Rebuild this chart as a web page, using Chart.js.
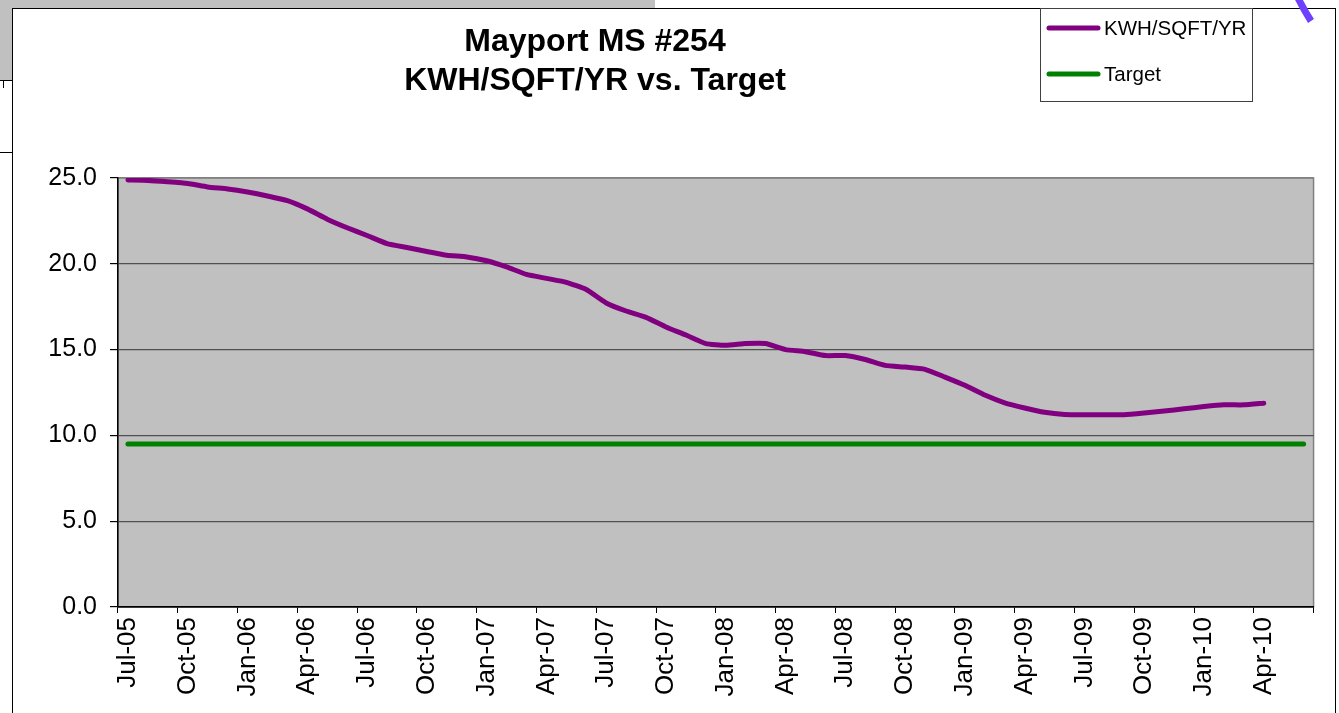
<!DOCTYPE html>
<html>
<head>
<meta charset="utf-8">
<script src="https://cdn.jsdelivr.net/npm/chart.js@4.4.0/dist/chart.umd.min.js"></script>
<style>
  html, body { margin: 0; padding: 0; background: #ffffff; }
  #wrap { position: relative; width: 1339px; height: 713px; }
</style>
</head>
<body>
<div id="wrap"><canvas id="c"></canvas></div>
<script>
const months = [
  'Jul-05','Aug-05','Sep-05','Oct-05','Nov-05','Dec-05',
  'Jan-06','Feb-06','Mar-06','Apr-06','May-06','Jun-06',
  'Jul-06','Aug-06','Sep-06','Oct-06','Nov-06','Dec-06',
  'Jan-07','Feb-07','Mar-07','Apr-07','May-07','Jun-07',
  'Jul-07','Aug-07','Sep-07','Oct-07','Nov-07','Dec-07',
  'Jan-08','Feb-08','Mar-08','Apr-08','May-08','Jun-08',
  'Jul-08','Aug-08','Sep-08','Oct-08','Nov-08','Dec-08',
  'Jan-09','Feb-09','Mar-09','Apr-09','May-09','Jun-09',
  'Jul-09','Aug-09','Sep-09','Oct-09','Nov-09','Dec-09',
  'Jan-10','Feb-10','Mar-10','Apr-10','May-10','Jun-10'
];
const kwhValues = [
  24.88, 24.86, 24.78, 24.68, 24.48, 24.36,
  24.18, 23.95, 23.68, 23.20, 22.60, 22.10,
  21.65, 21.18, 20.95, 20.72, 20.50, 20.40,
  20.18, 19.82, 19.38, 19.15, 18.92, 18.50,
  17.72, 17.25, 16.88, 16.32, 15.85, 15.35,
  15.25, 15.35, 15.35, 15.00, 14.88, 14.65,
  14.65, 14.42, 14.08, 13.98, 13.85, 13.40,
  12.92, 12.35, 11.90, 11.60, 11.35, 11.22,
  11.20, 11.20, 11.20, 11.30, 11.42, 11.55,
  11.68, 11.78, 11.78, 11.88, null, null
];
const targetValues = [
  9.5, 9.5, 9.5, 9.5, 9.5, 9.5, 9.5, 9.5, 9.5, 9.5,
  9.5, 9.5, 9.5, 9.5, 9.5, 9.5, 9.5, 9.5, 9.5, 9.5,
  9.5, 9.5, 9.5, 9.5, 9.5, 9.5, 9.5, 9.5, 9.5, 9.5,
  9.5, 9.5, 9.5, 9.5, 9.5, 9.5, 9.5, 9.5, 9.5, 9.5,
  9.5, 9.5, 9.5, 9.5, 9.5, 9.5, 9.5, 9.5, 9.5, 9.5,
  9.5, 9.5, 9.5, 9.5, 9.5, 9.5, 9.5, 9.5, 9.5, 9.5
];
const yTicks = [0, 5, 10, 15, 20, 25];
const titleLines = ['Mayport MS #254', 'KWH/SQFT/YR vs. Target'];
const seriesNames = ['KWH/SQFT/YR', 'Target'];

const FONT = "'Liberation Sans', Arial, Helvetica, sans-serif";
Chart.defaults.font.family = FONT;
Chart.defaults.color = '#000000';

const decorPlugin = {
  id: 'decor',
  beforeDraw(chart) {
    const ctx = chart.ctx;
    const a = chart.chartArea;
    ctx.save();
    ctx.fillStyle = '#ffffff';
    ctx.fillRect(0, 0, chart.width, chart.height);
    // spreadsheet remnants
    ctx.fillStyle = '#c0c0c0';
    ctx.fillRect(0, 0, 655, 8);
    ctx.fillRect(0, 0, 12, 80);
    ctx.strokeStyle = '#000000';
    ctx.lineWidth = 1;
    ctx.beginPath();
    ctx.moveTo(0, 80.5); ctx.lineTo(12, 80.5);
    ctx.moveTo(0, 152.5); ctx.lineTo(12, 152.5);
    ctx.moveTo(3.5, 80); ctx.lineTo(3.5, 88);
    ctx.stroke();
    // chart box border
    ctx.strokeStyle = '#000000';
    ctx.strokeRect(12.5, 8.5, 1323, 720);
    // stray violet arc
    ctx.strokeStyle = '#7040ff';
    ctx.lineWidth = 7;
    ctx.beginPath();
    ctx.moveTo(1298, -2);
    ctx.quadraticCurveTo(1304, 10, 1311, 21);
    ctx.stroke();
    // plot area
    ctx.fillStyle = '#c0c0c0';
    ctx.fillRect(a.left, a.top, a.right - a.left, a.bottom - a.top);
    ctx.strokeStyle = '#808080';
    ctx.lineWidth = 1.5;
    ctx.strokeRect(a.left, a.top, a.right - a.left, a.bottom - a.top);
    ctx.restore();
  },
  afterDraw(chart) {
    const ctx = chart.ctx;
    ctx.save();
    // title
    ctx.fillStyle = '#000000';
    ctx.font = 'bold 32px ' + FONT;
    ctx.textAlign = 'center';
    ctx.textBaseline = 'alphabetic';
    ctx.fillText(titleLines[0], 595, 51);
    ctx.fillText(titleLines[1], 595, 90);
    // legend
    const lx = 1040.5, ly = 8.5, lw = 212, lh = 93;
    ctx.fillStyle = '#ffffff';
    ctx.fillRect(lx, ly, lw, lh);
    ctx.strokeStyle = '#404040';
    ctx.lineWidth = 1;
    ctx.strokeRect(lx, ly, lw, lh);
    const rows = [28, 74];
    chart.data.datasets.forEach((ds, i) => {
      const y = rows[i];
      ctx.strokeStyle = ds.borderColor;
      ctx.lineWidth = 5;
      ctx.lineCap = 'round';
      ctx.beginPath();
      ctx.moveTo(1049, y);
      ctx.lineTo(1098, y);
      ctx.stroke();
      ctx.fillStyle = '#000000';
      ctx.font = '20.5px ' + FONT;
      ctx.textAlign = 'left';
      ctx.textBaseline = 'middle';
      ctx.fillText(ds.label, 1104, y + 1);
    });
    ctx.restore();
  }
};

new Chart(document.getElementById('c'), {
  type: 'line',
  data: {
    labels: months,
    datasets: [
      {
        label: seriesNames[0],
        data: kwhValues,
        borderColor: '#800080',
        backgroundColor: '#800080',
        borderWidth: 5,
        pointRadius: 0,
        borderCapStyle: 'round',
        borderJoinStyle: 'round',
        tension: 0.15,
        spanGaps: false
      },
      {
        label: seriesNames[1],
        data: targetValues,
        borderColor: '#008000',
        backgroundColor: '#008000',
        borderWidth: 5,
        pointRadius: 0,
        borderCapStyle: 'round',
        borderJoinStyle: 'round',
        tension: 0
      }
    ]
  },
  options: {
    responsive: true,
    maintainAspectRatio: false,
    animation: false,
    layout: { padding: { left: 0, right: 24, top: 178, bottom: 0 } },
    plugins: {
      legend: { display: false },
      title: { display: false },
      tooltip: { enabled: false }
    },
    scales: {
      x: {
        type: 'category',
        offset: true,
        afterFit(s) { s.height = 106; },
        border: { display: true, color: '#000000', width: 1.5 },
        grid: {
          offset: true,
          drawOnChartArea: false,
          drawTicks: true,
          tickLength: 6,
          color: (c) => (c.index === undefined || c.index % 3 === 0) ? '#000000' : 'rgba(0,0,0,0)',
          lineWidth: 1
        },
        ticks: {
          autoSkip: false,
          maxRotation: 90,
          minRotation: 90,
          padding: 4,
          font: { size: 26 },
          color: '#000000',
          callback: function (v, i) { return i % 3 === 0 ? months[i] : ''; }
        }
      },
      y: {
        min: 0,
        max: 25,
        afterFit(s) { s.width = 118; },
        afterBuildTicks(s) { s.ticks = yTicks.map(v => ({ value: v })); },
        border: { display: true, color: '#000000', width: 1.5 },
        grid: {
          drawTicks: true,
          tickLength: 8,
          tickColor: '#000000',
          color: (c) => {
            const v = c.tick ? c.tick.value : null;
            if (v === 25) return '#808080';
            if (v === 0) return '#000000';
            return '#505050';
          },
          lineWidth: 1.2
        },
        ticks: {
          padding: 13,
          font: { size: 25 },
          color: '#000000',
          callback: (v) => Number(v).toFixed(1)
        }
      }
    }
  },
  plugins: [decorPlugin]
});
</script>
</body>
</html>
